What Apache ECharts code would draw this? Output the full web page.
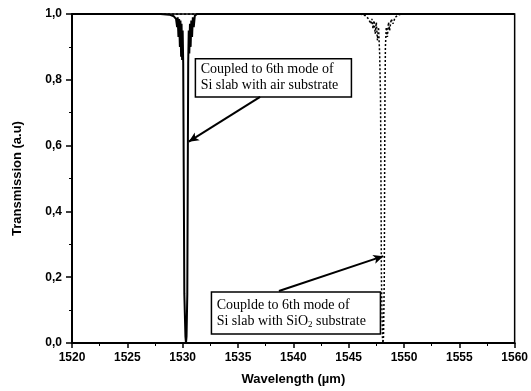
<!DOCTYPE html>
<html><head><meta charset="utf-8">
<script src="https://cdn.jsdelivr.net/npm/echarts@6/dist/echarts.min.js"></script>
<style>html,body{margin:0;padding:0;background:#fff}#c{width:531px;height:391px}</style>
</head><body><div id="c"></div>
<script>
// Si slab with air substrate (solid)
var airWl = [1520, 1528.0, 1528.8, 1529.2, 1529.4, 1529.5, 1529.55, 1529.62, 1529.68, 1529.75, 1529.8, 1529.86, 1529.9, 1529.95, 1530.0,
  1530.05, 1530.1, 1530.15, 1530.25, 1530.3, 1530.35, 1530.42, 1530.46, 1530.5,
  1530.55, 1530.6, 1530.66, 1530.72, 1530.78, 1530.85, 1530.92, 1531.0, 1531.1, 1531.3, 1560];
var airT = [1.0, 1.0, 0.998, 0.993, 0.985, 0.96, 0.99, 0.93, 0.985, 0.9, 0.98, 0.87, 0.97, 0.86, 0.95,
  0.85, 0.5, 0.15, 0.02, 0.0, 0.02, 0.15, 0.5, 0.85,
  0.95, 0.88, 0.97, 0.9, 0.98, 0.93, 0.99, 0.96, 0.995, 1.0, 1.0];
// Si slab with SiO2 substrate (dotted)
var sioWl = [1520, 1546.0, 1546.5, 1546.8, 1547.0, 1547.1, 1547.2, 1547.3, 1547.4, 1547.5, 1547.6, 1547.7, 1547.8,
  1547.88, 1547.92, 1547.96, 1548.05, 1548.1, 1548.15, 1548.22, 1548.25, 1548.28, 1548.32,
  1548.4, 1548.5, 1548.6, 1548.7, 1548.85, 1549.0, 1549.2, 1549.5, 1549.8, 1560];
var sioT = [1.0, 1.0, 0.995, 0.985, 0.97, 0.985, 0.955, 0.98, 0.94, 0.975, 0.92, 0.96, 0.88,
  0.75, 0.5, 0.2, 0.02, 0.0, 0.02, 0.2, 0.5, 0.75, 0.9,
  0.96, 0.93, 0.975, 0.95, 0.985, 0.97, 0.99, 0.997, 1.0, 1.0];
var xTicks = ['1520', '1525', '1530', '1535', '1540', '1545', '1550', '1555', '1560'];
var yTicks = ['0,0', '0,2', '0,4', '0,6', '0,8', '1,0'];

// annotation anchors (data coordinates)
var box1 = [[1531.15, 0.864], [1545.25, 0.748]];
var arrow1 = [[1537.0, 0.748], [1530.55, 0.612]];
var box2 = [[1532.6, 0.155], [1547.87, 0.027]];
var arrow2 = [[1538.7, 0.158], [1548.13, 0.264]];

function pair(a, b) { return a.map(function (v, i) { return [v, b[i]]; }); }

var chart = echarts.init(document.getElementById('c'), null, {renderer: 'canvas'});
var labelFont = {fontFamily: 'Liberation Sans, Arial, sans-serif', fontSize: 12, fontWeight: 'bold', color: '#000'};
var serif = 'Liberation Serif, Times New Roman, serif';
chart.setOption({
  animation: false,
  backgroundColor: '#fff',
  grid: {left: 72, right: 14, top: 14, bottom: 47, show: true, borderColor: '#000', borderWidth: 1.5, backgroundColor: 'transparent'},
  xAxis: {
    type: 'value', min: +xTicks[0], max: +xTicks[xTicks.length - 1], interval: 5,
    name: 'Wavelength (\u00b5m)', nameLocation: 'middle', nameGap: 30,
    nameTextStyle: {fontFamily: 'Liberation Sans, Arial, sans-serif', fontSize: 13, fontWeight: 'bold', color: '#000'},
    axisLine: {lineStyle: {color: '#000', width: 2}},
    axisTick: {show: true, length: 5, lineStyle: {color: '#000', width: 1.5}},
    minorTick: {show: true, splitNumber: 2, length: 3, lineStyle: {color: '#000', width: 1}},
    axisLabel: Object.assign({margin: 9, formatter: function (v) { return xTicks[Math.round((v - 1520) / 5)]; }}, labelFont),
    splitLine: {show: false}
  },
  yAxis: {
    type: 'value', min: 0, max: 1, interval: 0.2,
    name: 'Transmission (a.u)', nameLocation: 'middle', nameGap: 48,
    nameTextStyle: {fontFamily: 'Liberation Sans, Arial, sans-serif', fontSize: 13, fontWeight: 'bold', color: '#000'},
    axisLine: {lineStyle: {color: '#000', width: 2}},
    axisTick: {show: true, length: 6, lineStyle: {color: '#000', width: 1.5}},
    minorTick: {show: true, splitNumber: 2, length: 3, lineStyle: {color: '#000', width: 1}},
    axisLabel: Object.assign({margin: 10, formatter: function (v) { return yTicks[Math.round(v * 5)]; }}, labelFont),
    splitLine: {show: false}
  },
  series: [
    {
      type: 'line', data: pair(airWl, airT), showSymbol: false, symbol: 'none',
      lineStyle: {color: '#000', width: 2}, z: 3,
      markArea: {
        silent: true,
        itemStyle: {color: '#fff', borderColor: '#000', borderWidth: 1.5},
        label: {position: 'insideLeft', distance: 6, fontFamily: serif, fontSize: 14, color: '#000', lineHeight: 16,
          rich: {a: {fontFamily: serif, fontSize: 14, color: '#000', lineHeight: 16},
                 s: {fontFamily: serif, fontSize: 9, color: '#000', lineHeight: 16, padding: [8, 0, 0, 0]}}},
        data: [
          [{coord: box1[0], name: 'Coupled to 6th mode of\nSi slab with air substrate'}, {coord: box1[1]}],
          [{coord: box2[0], name: 'Couplde to 6th mode of\n{a|Si slab with SiO}{s|2}{a| substrate}'}, {coord: box2[1]}]
        ]
      },
      markLine: {
        silent: true, symbol: ['none', 'arrow'], symbolSize: [7, 10],
        lineStyle: {color: '#000', width: 2, type: 'solid'}, label: {show: false},
        data: [
          [{coord: arrow1[0]}, {coord: arrow1[1]}],
          [{coord: arrow2[0]}, {coord: arrow2[1]}]
        ]
      }
    },
    {
      type: 'line', data: pair(sioWl, sioT), showSymbol: false, symbol: 'none',
      lineStyle: {color: '#000', width: 1.5, type: [2, 2]}, z: 3
    }
  ]
});
</script></body></html>
